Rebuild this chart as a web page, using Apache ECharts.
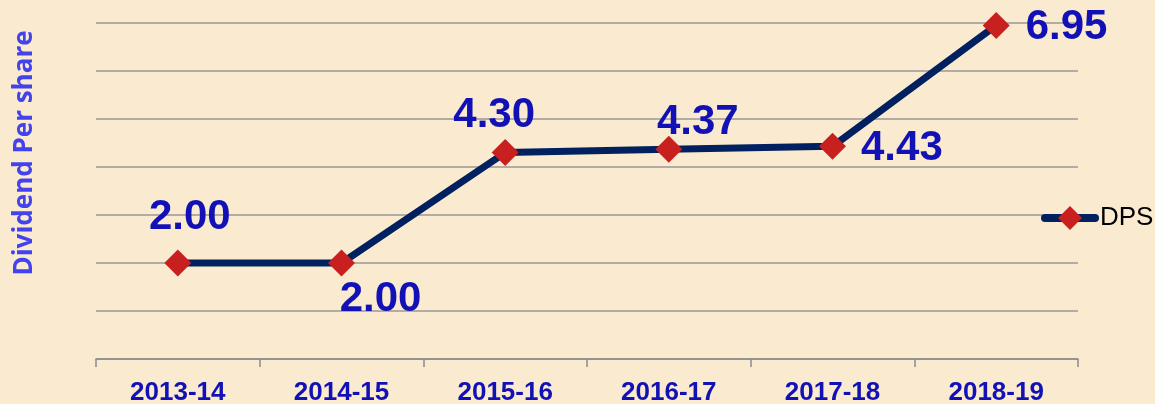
<!DOCTYPE html>
<html>
<head>
<meta charset="utf-8">
<script src="https://cdn.jsdelivr.net/npm/echarts@6/dist/echarts.min.js"></script>
<style>
  html, body { margin: 0; padding: 0; background: #FAEBD0; }
  #main { width: 1155px; height: 404px; }
</style>
</head>
<body>
<div id="main"></div>
<script type="text/javascript">
    var years = ['2013-14', '2014-15', '2015-16', '2016-17', '2017-18', '2018-19'];
    var dps = [2.00, 2.00, 4.30, 4.37, 4.43, 6.95];

    // where each value label sits relative to its point
    var labelPlace = [
        {position: 'top', offset: [12, -6]},
        {position: 'bottom', offset: [39, -3]},
        {position: 'top', offset: [-11, 2]},
        {position: 'top', offset: [29, 13]},
        {position: 'right', offset: [10, 2]},
        {position: 'right', offset: [11, 2]}
    ];

    var myChart = echarts.init(document.getElementById('main'));
    var option = {
        backgroundColor: '#FAEBD0',
        animation: false,
        grid: {left: 96, right: 77, top: 23, bottom: 45, containLabel: false, outerBoundsMode: 'none'},
        legend: {
            data: ['DPS'],
            left: 1036,
            top: 200,
            itemWidth: 50,
            itemHeight: 30,
            lineStyle: {width: 8, color: '#002060', cap: 'round'},
            textStyle: {fontSize: 26, color: '#000', fontFamily: 'Liberation Sans'}
        },
        xAxis: {
            type: 'category',
            boundaryGap: true,
            data: years,
            axisLine: {lineStyle: {color: '#8a8a8a', width: 1.5}},
            axisTick: {show: true, length: 8, lineStyle: {color: '#8a8a8a', width: 1.5}},
            axisLabel: {
                color: '#1111B5', fontSize: 26, fontWeight: 'bold',
                fontFamily: 'Liberation Sans', margin: 21
            }
        },
        yAxis: {
            type: 'value',
            min: 0, max: 7, interval: 1,
            name: 'Dividend Per share',
            nameLocation: 'middle',
            nameRotate: 90,
            nameGap: 58,
            nameTextStyle: {
                color: '#4343EE', fontSize: 26, fontWeight: 'bold', fontFamily: 'Open Sans',
                padding: [0, 0, 0, 76]
            },
            axisLine: {show: false},
            axisTick: {show: false},
            axisLabel: {show: false},
            splitLine: {lineStyle: {color: '#999999', width: 1.5}}
        },
        series: [{
            name: 'DPS',
            type: 'line',
            data: dps.map(function (v, i) {
                return {
                    value: v,
                    label: {position: labelPlace[i].position, offset: labelPlace[i].offset}
                };
            }),
            symbol: 'diamond',
            symbolSize: 27,
            lineStyle: {color: '#002060', width: 7},
            itemStyle: {color: '#C8201E'},
            label: {
                show: true,
                distance: 5,
                fontSize: 42,
                fontWeight: 'bold',
                fontFamily: 'Liberation Sans',
                color: '#1111B5',
                formatter: function (p) { return p.value.toFixed(2); }
            }
        }]
    };

    myChart.setOption(option);
</script>
</body>
</html>
